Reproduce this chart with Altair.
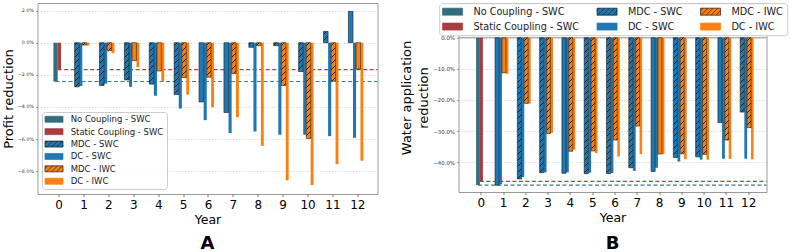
import altair as alt

# ---------------- data ----------------
YEARS = list(range(13))
SERIES = ["No Coupling - SWC", "Static Coupling - SWC", "MDC - SWC",
          "DC - SWC", "MDC - IWC", "DC - IWC"]

# Panel A: profit reduction (%); baselines only in year 0, the rest in years 1-12
A_NO_COUPLING = [-2.42]
A_STATIC = [-1.68]
A_MDC_SWC = [-2.75, -2.67, -2.32, -2.58, -3.23, -3.69, -4.35, -0.29, -0.19, -1.80, 0.70, 1.95]
A_DC_SWC = [-2.70, -2.55, -2.75, -3.30, -4.10, -4.82, -5.63, -5.53, -5.73, -5.73, -5.82, -5.92]
A_MDC_IWC = [-0.15, -0.50, -1.12, -1.76, -2.17, -2.15, -1.93, -0.19, -2.67, -5.96, -2.40, -1.64]
A_DC_IWC = [-0.17, -0.65, -1.53, -2.40, -3.23, -4.02, -4.64, -6.42, -8.57, -8.86, -7.56, -7.35]

# Panel B: water application reduction (%)
B_NO_COUPLING = [-47.4]
B_STATIC = [-46.2]
B_MDC_SWC = [-47.4, -45.4, -43.4, -43.6, -43.7, -43.7, -41.8, -43.0, -38.5, -38.3, -27.3, -23.9]
B_DC_SWC = [-47.1, -44.8, -43.3, -43.3, -43.4, -43.5, -42.8, -41.8, -39.8, -39.2, -38.9, -38.9]
B_MDC_IWC = [-11.3, -21.1, -30.8, -36.5, -36.4, -32.9, -28.4, -37.4, -37.3, -37.5, -32.9, -28.9]
B_DC_IWC = [-11.6, -21.2, -30.6, -36.0, -37.1, -38.2, -37.4, -37.4, -39.1, -39.2, -39.0, -39.1]

A_Y_TICKS = [2, 0, -2, -4, -6, -8]
B_Y_TICKS = [0, -10, -20, -30, -40]

# ---------------- styles ----------------
FONT = "DejaVu Sans"
COLORS = {"No Coupling - SWC": "#316d7c", "Static Coupling - SWC": "#a83c40",
          "MDC - SWC": "#1f77b4", "DC - SWC": "#1f77b4",
          "MDC - IWC": "#ff7f0e", "DC - IWC": "#ff7f0e"}
HATCHED = {"MDC - SWC", "MDC - IWC"}
YEAR0 = {"No Coupling - SWC", "Static Coupling - SWC"}
OFFSETS = {"No Coupling - SWC": (-0.21, -0.04), "Static Coupling - SWC": (-0.04, 0.095),
           "MDC - SWC": (-0.36, -0.175), "DC - SWC": (-0.175, -0.05),
           "MDC - IWC": (-0.05, 0.125), "DC - IWC": (0.125, 0.24)}
LINE_COLORS = {"No Coupling - SWC": "#3d7d8a", "Static Coupling - SWC": "#c8383a"}
FRAME = "#9a9a9a"
HATCH_INK = "#222222"


def hatch_gradient(base, w, h, period=6.0, lw=0.8):
    """Diagonal '/' hatch drawn as a striped linear gradient for one bar."""
    w = max(w, 0.5)
    h = max(h, 0.5)
    tot = w + h
    lam = tot / (w * w + h * h)
    stops = [{"offset": 0, "color": base}]
    f = period * 0.4
    while f + lw < tot:
        a = round(f / tot, 4)
        b = round((f + lw) / tot, 4)
        stops += [{"offset": a, "color": base}, {"offset": a, "color": HATCH_INK},
                  {"offset": b, "color": HATCH_INK}, {"offset": b, "color": base}]
        f += period
    stops.append({"offset": 1, "color": base})
    return {"gradient": "linear", "x1": 0, "y1": 0,
            "x2": round(lam * w, 5), "y2": round(lam * h, 5), "stops": stops}


def swatch_path(w, h, hatched, s=3.0, gap=5.0):
    """Legend swatch as an SVG path (rectangle, plus hatch strokes if hatched)."""
    hw, hh = w / 2, h / 2
    p = (f"M{-hw/s:.3f},{-hh/s:.3f}L{hw/s:.3f},{-hh/s:.3f}"
         f"L{hw/s:.3f},{hh/s:.3f}L{-hw/s:.3f},{hh/s:.3f}Z")
    if hatched:
        x0 = -hw - h + gap / 2
        while x0 < hw:
            t0 = max(0.0, (-hw - x0) / h)
            t1 = min(1.0, (hw - x0) / h)
            if t1 > t0:
                xa, ya = x0 + h * t0, hh - h * t0
                xb, yb = x0 + h * t1, hh - h * t1
                p += f"M{xa/s:.3f},{ya/s:.3f}L{xb/s:.3f},{yb/s:.3f}"
            x0 += gap
    return p


def build_rows(values, xpx, ypx):
    rows = []
    for s, vals in values.items():
        yrs = [0] if s in YEAR0 else YEARS[1:]
        lo, hi = OFFSETS[s]
        for yr, v in zip(yrs, vals):
            fill = COLORS[s]
            if s in HATCHED:
                fill = hatch_gradient(COLORS[s], (hi - lo) * xpx, abs(v) * ypx)
            rows.append({"series": s, "year": yr, "x0": yr + lo, "x1": yr + hi,
                         "v": v, "fill": fill})
    return rows


def panel(values, xdom, ydom, width, height, yticks, ytitle, ylabel_size,
          title_pad, legend_kw, legend_order, swatch, letter, letter_offset,
          top_rule=False):
    xpx = width / (xdom[1] - xdom[0])
    ypx = height / (ydom[1] - ydom[0])
    rows = build_rows(values, xpx, ypx)
    plain = [r for r in rows if r["series"] not in HATCHED]
    hatched = [r for r in rows if r["series"] in HATCHED]

    xs = alt.Scale(domain=xdom, nice=False, zero=False)
    ys = alt.Scale(domain=ydom, nice=False, zero=False)
    xaxis = alt.Axis(values=YEARS, format="d", title="Year", grid=False, domain=False,
                     labelFontSize=12, labelColor="#000000", labelPadding=3,
                     tickSize=2.5, tickColor="#444444", tickWidth=0.7,
                     titleFontSize=12.5, titleFontWeight="normal", titleColor="#000000",
                     titlePadding=2.5, labelFont=FONT, titleFont=FONT)
    yaxis = alt.Axis(values=yticks, labelExpr="format(datum.value, '.1f') + '%'",
                     title=ytitle, grid=True, gridDash=[1.5, 1.5], gridColor="#cfcfcf",
                     gridWidth=0.7, domain=False, labelFontSize=ylabel_size,
                     labelColor="#333333", labelPadding=2, tickSize=2,
                     tickColor="#666666", tickWidth=0.6, titleFontSize=13,
                     titleFontWeight="normal", titleColor="#000000",
                     titlePadding=title_pad, titleLineHeight=17,
                     labelFont=FONT, titleFont=FONT)

    layers = []
    base_vals = {"No Coupling - SWC": values["No Coupling - SWC"][0],
                 "Static Coupling - SWC": values["Static Coupling - SWC"][0]}
    for s, v in base_vals.items():
        lo, hi = OFFSETS[s]
        start = (lo + hi) / 2 if s == "No Coupling - SWC" else lo
        rule = alt.Chart(alt.Data(values=[{"xs": start, "xe": xdom[1] + 1, "y": v}])).mark_rule(
            color=LINE_COLORS[s], strokeWidth=1.1, strokeDash=[4, 2.5], clip=True
        ).encode(x=alt.X("xs:Q", scale=xs, axis=xaxis), x2="xe:Q",
                 y=alt.Y("y:Q", scale=ys, axis=yaxis))
        layers.append(rule)

    if top_rule:
        layers.append(alt.Chart(alt.Data(values=[{"edge": 0}])).mark_rule(
            color=FRAME, strokeWidth=1).encode(y=alt.Y("edge:Q", scale=ys, axis=yaxis)))

    def bar_layer(data, **mk):
        return alt.Chart(alt.Data(values=data)).mark_bar(**mk).encode(
            x=alt.X("x0:Q", scale=xs, axis=xaxis), x2="x1:Q",
            y=alt.Y("v:Q", scale=ys, axis=yaxis), y2=alt.datum(0),
            fill=alt.Fill("fill:N", scale=None))

    layers.append(bar_layer(plain))
    layers.append(bar_layer(hatched, stroke="#1a1a1a", strokeWidth=0.6))

    fills = [COLORS[s] for s in legend_order]
    strokes = ["#1a1a1a" if s in HATCHED else COLORS[s] for s in legend_order]
    shapes = [swatch_path(swatch[0], swatch[1], s in HATCHED) for s in legend_order]
    leg = alt.Legend(title=None, orient="none", symbolSize=36, symbolStrokeWidth=0.7,
                     labelFont=FONT, labelColor="#1a1a1a", cornerRadius=3,
                     strokeColor="#cccccc", **legend_kw)
    legend_rows = [{"series": s} for s in legend_order]
    layers.append(alt.Chart(alt.Data(values=legend_rows)).transform_filter("false").mark_point(
        filled=True, opacity=1, strokeWidth=0.7).encode(
        fill=alt.Fill("series:N", scale=alt.Scale(domain=legend_order, range=fills), legend=leg),
        shape=alt.Shape("series:N", scale=alt.Scale(domain=legend_order, range=shapes), legend=leg),
        stroke=alt.Stroke("series:N", scale=alt.Scale(domain=legend_order, range=strokes), legend=leg)))

    return alt.layer(*layers).properties(
        width=width, height=height,
        title=alt.TitleParams(letter, orient="bottom", anchor="middle", fontSize=18,
                              fontWeight="bold", font=FONT, color="#000000",
                              offset=letter_offset))


values_a = {"No Coupling - SWC": A_NO_COUPLING, "Static Coupling - SWC": A_STATIC,
            "MDC - SWC": A_MDC_SWC, "DC - SWC": A_DC_SWC,
            "MDC - IWC": A_MDC_IWC, "DC - IWC": A_DC_IWC}
values_b = {"No Coupling - SWC": B_NO_COUPLING, "Static Coupling - SWC": B_STATIC,
            "MDC - SWC": B_MDC_SWC, "DC - SWC": B_DC_SWC,
            "MDC - IWC": B_MDC_IWC, "DC - IWC": B_DC_IWC}

order_b = [SERIES[0], SERIES[2], SERIES[4], SERIES[1], SERIES[3], SERIES[5]]

chart_a = panel(values_a, [-0.85, 12.81], [-9.42, 2.47], 340, 191, A_Y_TICKS,
                "Profit reduction", 4.8, 1.5,
                dict(legendX=4.5, legendY=109, direction="vertical", labelFontSize=8.5,
                     symbolOffset=4.75, labelOffset=12.4, rowPadding=2.4, padding=3,
                     fillColor="rgba(255,255,255,0.8)"),
                SERIES, (18, 6), "A", 9.5)

chart_b = panel(values_b, [-1.0, 12.82], [-49.6, 11.16], 308, 189, B_Y_TICKS,
                ["Water application", "reduction"], 5.4, 2.3,
                dict(legendX=-19.3, legendY=0.2, direction="horizontal", columns=3,
                     labelFontSize=9.7, symbolOffset=5, labelOffset=16, rowPadding=4,
                     columnPadding=15.5, padding=3.5, fillColor="#ffffff"),
                order_b, (20, 7), "B", 11.5, top_rule=True)

chart = alt.hconcat(chart_a, chart_b, spacing=21).resolve_scale(
    x="independent", y="independent", fill="independent",
    shape="independent", stroke="independent"
).resolve_legend(fill="independent", shape="independent", stroke="independent").properties(
    padding={"left": 1.5, "top": 2, "right": 0, "bottom": 0}
).configure_view(stroke=FRAME, strokeWidth=1)

chart.save("out.html", embed_options={"renderer": "svg", "actions": False})
